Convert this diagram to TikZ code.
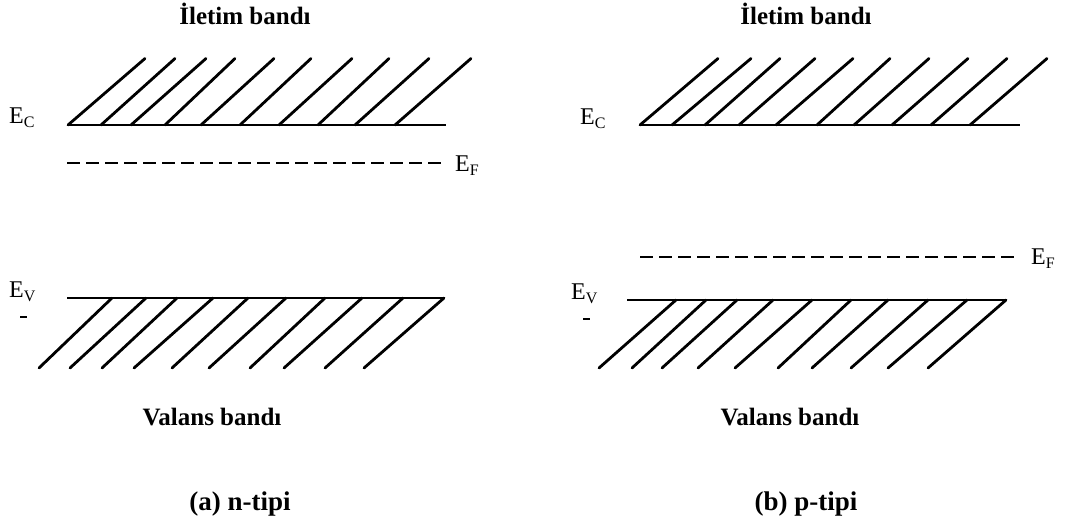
\documentclass[tikz,border=0pt]{standalone}
\usepackage{fontspec}
\setmainfont{Liberation Serif}
\newcommand\Elab[1]{E\raisebox{-4pt}{\fontsize{16}{18}\selectfont #1}}
\begin{document}
\begin{tikzpicture}[x=1pt,y=-1pt,
  band/.style={line width=2pt},
  hatch/.style={line width=2.8pt, line cap=round},
  fermi/.style={line width=1.6pt, dash pattern=on 13pt off 6pt},
  title/.style={font=\fontsize{25}{30}\selectfont\bfseries, anchor=base, inner sep=0pt},
  caption/.style={font=\fontsize{27}{32}\selectfont\bfseries, anchor=base, inner sep=0pt},
  elab/.style={font=\fontsize{24}{28}\selectfont, anchor=base west, inner sep=0pt},
  tick/.style={line width=2.5pt}
]
\useasboundingbox (0,0) rectangle (1066,522);

% ---------- (a) n-type ----------
\node[title] (condA) at (245,24) {İletim bandı};
\coordinate (ecA1) at (67,125);
\coordinate (ecA2) at (446,125);
\draw[band] (ecA1) -- (ecA2);
\foreach \b/\t in {68/145,101/175,131/206,165/235,201/274,240/311,279/352,318/389,355/429,395/471}
  \draw[hatch] (\b,125) -- (\t,58.5);
\node[elab] (ecLabA) at (9,123) {\Elab{C}};

\coordinate (efA1) at (67,163);
\coordinate (efA2) at (442,163);
\draw[fermi] (efA1) -- (efA2);
\node[elab] (efLabA) at (455,171) {\Elab{F}};

\coordinate (evA1) at (67,298);
\coordinate (evA2) at (444,298);
\draw[band] (evA1) -- (evA2);
\foreach \t/\b in {112/39,146/70,177/102,213/134,248/172,286/209,325/250,362/284,403/325,444/364}
  \draw[hatch] (\t,298) -- (\b,368);
\node[elab] (evLabA) at (9,297) {\Elab{V}};
\coordinate (mkA1) at (20,317);
\coordinate (mkA2) at (27,317);
\draw[tick] (mkA1) -- (mkA2);

\node[title] (valA) at (212,425) {Valans bandı};
\node[caption] (capA) at (240,510) {(a) n-tipi};

% ---------- (b) p-type ----------
\node[title] (condB) at (806,24) {İletim bandı};
\coordinate (ecB1) at (640,125);
\coordinate (ecB2) at (1020,125);
\draw[band] (ecB1) -- (ecB2);
\foreach \b/\t in {640/718,672/751,705/780,739/815,776/853,817/890,854/929,892/968,931/1007,970/1047}
  \draw[hatch] (\b,125) -- (\t,58.5);
\node[elab] (ecLabB) at (580,124) {\Elab{C}};

\coordinate (efB1) at (640,257);
\coordinate (efB2) at (1018,257);
\draw[fermi] (efB1) -- (efB2);
\node[elab] (efLabB) at (1031,264) {\Elab{F}};

\coordinate (evB1) at (627,300);
\coordinate (evB2) at (1007,300);
\draw[band] (evB1) -- (evB2);
\foreach \t/\b in {676/599,706/632,737/662,773/698,812/735,851/778,888/812,928/851,967/888,1006/928}
  \draw[hatch] (\t,300) -- (\b,368);
\node[elab] (evLabB) at (571,299) {\Elab{V}};
\coordinate (mkB1) at (583,319);
\coordinate (mkB2) at (590,319);
\draw[tick] (mkB1) -- (mkB2);

\node[title] (valB) at (790,425) {Valans bandı};
\node[caption] (capB) at (806,510) {(b) p-tipi};
\end{tikzpicture}
\end{document}
